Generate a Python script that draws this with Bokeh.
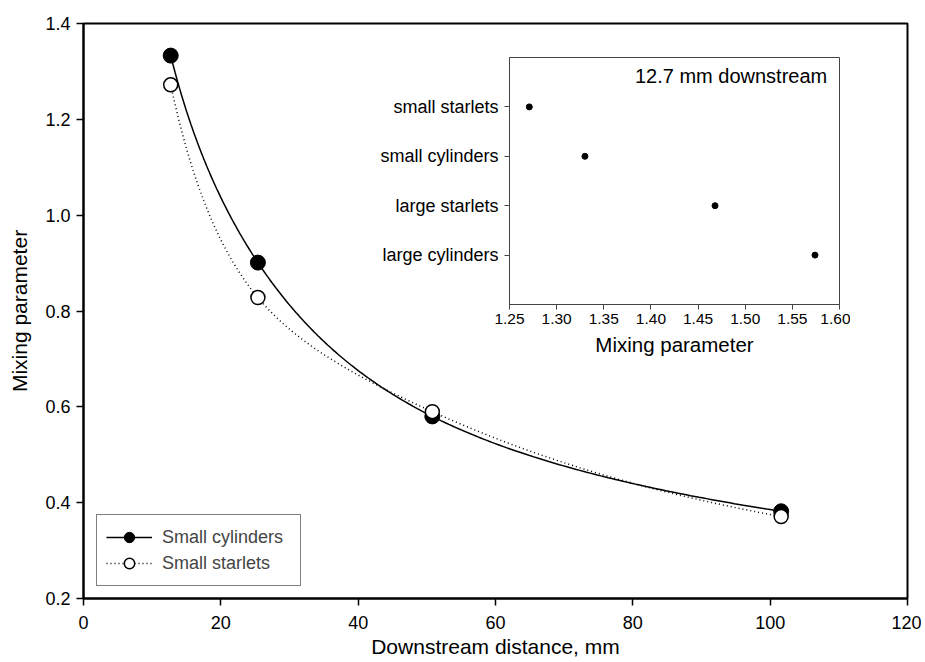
import numpy as np
from bokeh.plotting import figure
from bokeh.models import (Range1d, FactorRange, FixedTicker, PrintfTickFormatter,
                          Legend, LegendItem, Label)
from bokeh.embed import file_html
from bokeh.resources import INLINE

# ---------------- data ----------------
distance_mm = [12.7, 25.4, 50.8, 101.6]
small_cylinders = [1.333, 0.901, 0.580, 0.382]
small_starlets = [1.272, 0.828, 0.590, 0.371]

x_ticks = [0, 20, 40, 60, 80, 100, 120]
y_ticks = [0.2, 0.4, 0.6, 0.8, 1.0, 1.2, 1.4]

inset_categories = ["small starlets", "small cylinders", "large starlets", "large cylinders"]
inset_values = [1.271, 1.330, 1.468, 1.574]
inset_x_ticks = [1.25, 1.30, 1.35, 1.40, 1.45, 1.50, 1.55, 1.60]
inset_title = "12.7 mm downstream"

FONT = "Liberation Sans"


def smooth_curve(xs, ys, n=300):
    """Natural cubic spline through the points, computed in log-log space."""
    lx = np.log(np.asarray(xs, float))
    ly = np.log(np.asarray(ys, float))
    k = len(lx)
    h = np.diff(lx)
    A = np.zeros((k, k))
    r = np.zeros(k)
    A[0, 0] = A[-1, -1] = 1.0
    for i in range(1, k - 1):
        A[i, i - 1] = h[i - 1]
        A[i, i] = 2 * (h[i - 1] + h[i])
        A[i, i + 1] = h[i]
        r[i] = 3 * ((ly[i + 1] - ly[i]) / h[i] - (ly[i] - ly[i - 1]) / h[i - 1])
    c = np.linalg.solve(A, r)
    b = (ly[1:] - ly[:-1]) / h - h * (2 * c[:-1] + c[1:]) / 3
    d = (c[1:] - c[:-1]) / (3 * h)
    xx = np.linspace(lx[0], lx[-1], n)
    idx = np.clip(np.searchsorted(lx, xx) - 1, 0, k - 2)
    dx = xx - lx[idx]
    yy = ly[idx] + b[idx] * dx + c[idx] * dx ** 2 + d[idx] * dx ** 3
    return np.exp(xx), np.exp(yy)


# ---------------- main figure ----------------
p = figure(width=921, height=662, x_range=Range1d(0, 120), y_range=Range1d(0.2, 1.4),
           output_backend="svg", toolbar_location=None,
           min_border_left=83, min_border_right=14, min_border_top=23, min_border_bottom=64,
           x_axis_label="Downstream distance, mm", y_axis_label="Mixing parameter")
p.grid.visible = False
p.outline_line_color = "black"
p.outline_line_width = 2
p.background_fill_color = "white"
p.border_fill_color = "white"

for ax in (p.xaxis[0], p.yaxis[0]):
    ax.axis_line_width = 2
    ax.axis_line_color = "black"
    ax.major_tick_line_width = 1.5
    ax.major_tick_line_color = "black"
    ax.major_tick_out = 7
    ax.major_tick_in = 0
    ax.minor_tick_line_color = None
    ax.major_label_text_font = FONT
    ax.major_label_text_font_size = "18px"
    ax.major_label_text_color = "black"
    ax.axis_label_text_font = FONT
    ax.axis_label_text_font_size = "21px"
    ax.axis_label_text_font_style = "normal"
    ax.axis_label_text_color = "black"

p.xaxis.ticker = FixedTicker(ticks=x_ticks)
p.xaxis.formatter = PrintfTickFormatter(format="%d")
p.yaxis.ticker = FixedTicker(ticks=y_ticks)
p.yaxis.formatter = PrintfTickFormatter(format="%.1f")
p.xaxis.major_label_standoff = 10
p.xaxis.axis_label_standoff = 3
p.yaxis.major_label_standoff = 6
p.yaxis.axis_label_standoff = 11

cx, cy = smooth_curve(distance_mm, small_cylinders)
sx, sy = smooth_curve(distance_mm, small_starlets)

l1 = p.line(cx, cy, line_color="black", line_width=1.5)
l2 = p.line(sx, sy, line_color="black", line_width=1.5, line_dash="1 3")
m1 = p.scatter(distance_mm, small_cylinders, marker="circle", size=15,
               fill_color="black", line_color="black", line_width=1)
m2 = p.scatter(distance_mm, small_starlets, marker="circle", size=14,
               fill_color="white", line_color="black", line_width=1.5)

legend = Legend(items=[LegendItem(label="Small cylinders", renderers=[l1, m1]),
                       LegendItem(label="Small starlets", renderers=[l2, m2])],
                location=(13, 12))
legend.border_line_color = "black"
legend.border_line_width = 1
legend.background_fill_color = "white"
legend.background_fill_alpha = 1
legend.label_text_font = FONT
legend.label_text_font_size = "18px"
legend.glyph_width = 46
legend.glyph_height = 26
legend.label_height = 20
legend.label_width = 129
legend.spacing = 0
legend.padding = 9
legend.margin = 0
legend.label_standoff = 10
p.add_layout(legend)

# ---------------- inset ----------------
INSET_GRAY = "#444444"
inset = figure(width=480, height=315, x_range=Range1d(1.25, 1.60),
               y_range=FactorRange(factors=list(reversed(inset_categories)),
                                   range_padding=0.25),
               output_backend="svg", toolbar_location=None,
               min_border_left=139, min_border_right=11, min_border_top=7, min_border_bottom=61,
               x_axis_label="Mixing parameter")
inset.grid.visible = False
inset.outline_line_color = INSET_GRAY
inset.outline_line_width = 1
inset.background_fill_color = "white"
inset.border_fill_alpha = 0

for ax in (inset.xaxis[0], inset.yaxis[0]):
    ax.axis_line_color = INSET_GRAY
    ax.axis_line_width = 1
    ax.major_tick_line_color = INSET_GRAY
    ax.major_tick_line_width = 1
    ax.major_tick_out = 5
    ax.major_tick_in = 0
    ax.minor_tick_line_color = None
    ax.major_label_text_font = FONT
    ax.major_label_text_color = "black"
    ax.axis_label_text_font = FONT
    ax.axis_label_text_font_size = "20.5px"
    ax.axis_label_text_font_style = "normal"
    ax.axis_label_text_color = "black"

inset.xaxis.ticker = FixedTicker(ticks=inset_x_ticks)
inset.xaxis.formatter = PrintfTickFormatter(format="%.2f")
inset.xaxis.major_label_text_font_size = "15.5px"
inset.xaxis.major_label_standoff = 4
inset.xaxis.axis_label_standoff = 6
inset.yaxis.major_label_text_font_size = "18px"
inset.yaxis.major_label_standoff = 6

inset.scatter(inset_values, inset_categories, marker="circle", size=6,
              fill_color="black", line_color="black")

inset.add_layout(Label(x=1.587, y=4.135, text=inset_title, text_align="right",
                       text_baseline="middle", text_font=FONT, text_font_size="20px",
                       text_color="black"))

inset.styles = {"position": "absolute", "left": "370px", "top": "50px"}

open("out.html", "w").write(file_html([p, inset], INLINE))
